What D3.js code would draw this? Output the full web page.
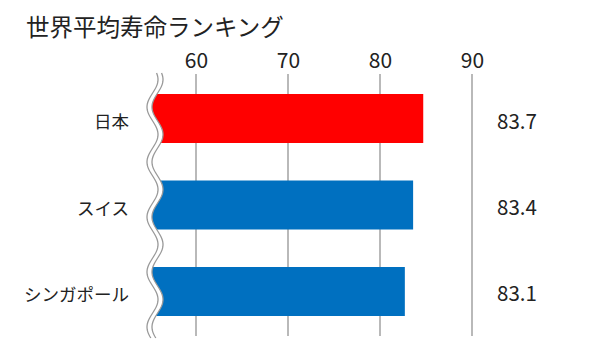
<!DOCTYPE html>
<html><head><meta charset="utf-8">
<script src="https://cdn.jsdelivr.net/npm/d3@7"></script>
<style>html,body{margin:0;padding:0;background:#fff;}svg{display:block;font-family:"Noto Sans CJK JP","Noto Sans",sans-serif;}</style>
</head><body>
<script>
const title = "世界平均寿命ランキング";
const categories = ["日本", "スイス", "シンガポール"];
const values = [84.7, 83.6, 82.7];          // bar lengths as drawn
const valueLabels = ["83.7", "83.4", "83.1"]; // printed labels
const colors = ["#ff0000", "#0070c0", "#0070c0"];
const tickValues = [60, 70, 80, 90];

const W = 600, H = 350;
const svg = d3.select("body").append("svg").attr("width", W).attr("height", H);

const x = d3.scaleLinear().domain([60, 90]).range([196, 472]);
const y = d3.scaleBand().domain(categories).range([75, 335]).paddingInner(0.4335).paddingOuter(0.22);

svg.append("text").attr("x", 26).attr("y", 36).attr("font-size", 23.5).attr("fill", "#222").text(title);

// grid lines
svg.append("g").selectAll("line").data(tickValues).join("line")
  .attr("x1", d => x(d)).attr("x2", d => x(d)).attr("y1", 74).attr("y2", 336)
  .attr("stroke", "#8a8a8a").attr("stroke-width", 1.2);

// top axis labels
const axis = d3.axisTop(x).tickValues(tickValues).tickSize(0).tickPadding(0);
const ag = svg.append("g").attr("transform", "translate(0,68)").call(axis);
ag.select(".domain").remove();
ag.selectAll("text").attr("font-size", 21).attr("fill", "#222").attr("font-family", "'Noto Sans CJK JP',sans-serif");

// wave function for break
const P = 55, A = 5.5, cx = 157.5;
const wave = (yy, off) => cx + off - A * Math.sin(2 * Math.PI * (yy - 107 + P / 4) / P);

// bars
const bars = svg.append("g");
categories.forEach((c, i) => {
  const y0 = y(c), y1 = y(c) + y.bandwidth();
  const pts = [];
  pts.push([x(values[i]), y0]);
  pts.push([x(values[i]), y1]);
  for (let yy = y1; yy >= y0; yy -= 1) pts.push([wave(yy, 0), yy]);
  pts.push([wave(y0, 0), y0]);
  bars.append("path").attr("d", "M" + pts.map(p => p.join(",")).join("L") + "Z").attr("fill", colors[i]);
});

// break lines
[-5, 0].forEach(off => {
  const pts = [];
  for (let yy = 73; yy <= 338; yy += 1) pts.push([wave(yy, off), yy]);
  svg.append("path").attr("d", "M" + pts.map(p => p.join(",")).join("L"))
    .attr("fill", "none").attr("stroke", "#999").attr("stroke-width", 1.3);
});

// category labels
svg.append("g").selectAll("text").data(categories).join("text")
  .attr("x", 129).attr("y", d => y(d) + y.bandwidth() / 2 + 2)
  .attr("text-anchor", "end").attr("dominant-baseline", "central")
  .attr("font-size", 17.5).attr("fill", "#222").text(d => d);

// value labels
svg.append("g").selectAll("text").data(valueLabels).join("text")
  .attr("x", 517).attr("y", (d, i) => y(categories[i]) + y.bandwidth() / 2 + 1)
  .attr("text-anchor", "middle").attr("dominant-baseline", "central")
  .attr("font-size", 20.5).attr("fill", "#222").text(d => d);
</script>
</body></html>
